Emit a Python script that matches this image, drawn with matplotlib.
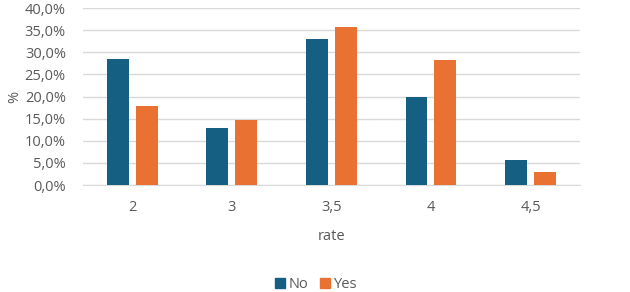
import matplotlib
matplotlib.use("Agg")
import matplotlib.pyplot as plt
import numpy as np
from matplotlib.ticker import FuncFormatter
from matplotlib.lines import Line2D

categories = ["2", "3", "3,5", "4", "4,5"]
no_vals = [28.4, 12.8, 32.9, 19.9, 5.7]
yes_vals = [17.9, 14.8, 35.8, 28.2, 2.9]
yticks = [0, 5, 10, 15, 20, 25, 30, 35, 40]

blue = "#156082"
orange = "#E97132"
txt = "#595959"

plt.rcParams['font.family'] = ['Open Sans', 'DejaVu Sans']

fig = plt.figure(figsize=(6.3, 2.92), dpi=100)
ax = fig.add_axes([0.131, 0.3664, 0.79, 0.6062])

x = np.arange(len(categories))
w = 0.22
gap = 0.07
ax.bar(x - (w + gap) / 2, no_vals, width=w, color=blue, zorder=3, label="No")
ax.bar(x + (w + gap) / 2, yes_vals, width=w, color=orange, zorder=3, label="Yes")

ax.set_xlim(-0.5, len(categories) - 0.5)
ax.set_ylim(0, 40)
ax.set_yticks(yticks)
ax.yaxis.set_major_formatter(FuncFormatter(lambda v, p: f"{v:.1f}%".replace(".", ",")))
ax.set_xticks(x)
ax.set_xticklabels(categories)
ax.grid(axis="y", color="#D9D9D9", linewidth=1, zorder=0)
for s in ["top", "right", "left"]:
    ax.spines[s].set_visible(False)
ax.spines["bottom"].set_color("#D9D9D9")
ax.tick_params(axis="both", length=0, colors=txt, labelsize=10.5)
ax.tick_params(axis="x", pad=11)
ax.tick_params(axis="y", pad=12)

ax.set_xlabel("rate", color=txt, fontsize=10.5, labelpad=10)
ax.set_ylabel("%", color=txt, fontsize=10.5, labelpad=2)

handles = [Line2D([], [], marker="s", linestyle="", color=blue, markersize=7.5),
           Line2D([], [], marker="s", linestyle="", color=orange, markersize=7.5)]
fig.legend(handles, ["No", "Yes"], loc="center", bbox_to_anchor=(0.5, 0.027),
           ncol=2, frameon=False, fontsize=10.5, labelcolor=txt,
           handletextpad=0.1, columnspacing=0.6, handlelength=1.0)

fig.savefig("out.png", dpi=100)
